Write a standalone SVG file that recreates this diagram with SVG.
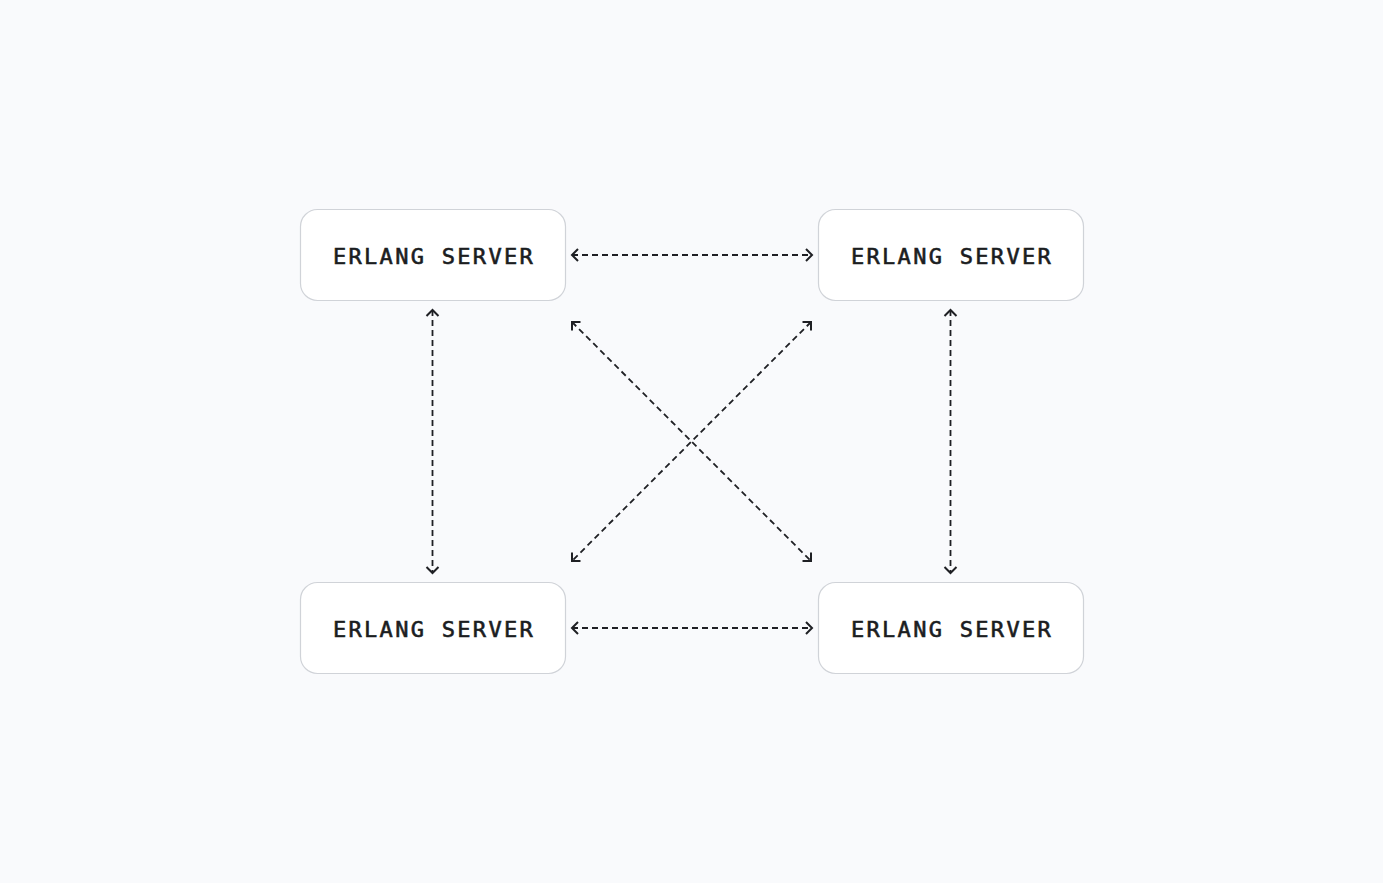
<svg xmlns="http://www.w3.org/2000/svg" width="1383" height="883" viewBox="0 0 1383 883">
<style>
.box{fill:#ffffff;stroke:#d0d3d8;stroke-width:1.2}
.lbl{font-family:"DejaVu Sans Mono","Liberation Mono",monospace;font-size:22px;font-weight:normal;letter-spacing:2.3px;fill:#1b1d21;stroke:#1b1d21;stroke-width:0.6;text-anchor:middle}
.conn{fill:none;stroke:#1f2024;stroke-width:1.8;stroke-dasharray:6 4}
.head{fill:none;stroke:#1f2024;stroke-width:2;stroke-dasharray:none}
</style>
<defs>
<marker id="ah" markerUnits="userSpaceOnUse" viewBox="-9 -9 12 18" refX="0" refY="0" markerWidth="12" markerHeight="18" orient="auto-start-reverse" overflow="visible">
<path class="head" d="M-6,-6 L0,0 L-6,6"/>
</marker>
</defs>
<rect width="1383" height="883" fill="#f9fafc"/>
<g id="connectors">
<line class="conn" x1="572" y1="255" x2="812" y2="255" marker-start="url(#ah)" marker-end="url(#ah)"/>
<line class="conn" x1="572" y1="628" x2="812" y2="628" marker-start="url(#ah)" marker-end="url(#ah)"/>
<line class="conn" x1="432.5" y1="310" x2="432.5" y2="573" marker-start="url(#ah)" marker-end="url(#ah)"/>
<line class="conn" x1="950.5" y1="310" x2="950.5" y2="573" marker-start="url(#ah)" marker-end="url(#ah)"/>
<line class="conn" x1="572" y1="322" x2="811" y2="561" marker-start="url(#ah)" marker-end="url(#ah)"/>
<line class="conn" x1="811" y1="322" x2="572" y2="561" marker-start="url(#ah)" marker-end="url(#ah)"/>
</g>
<g id="node-tl">
<rect class="box" x="300.5" y="209.5" width="265" height="91" rx="17"/>
<text class="lbl" x="434" y="264">ERLANG SERVER</text>
</g>
<g id="node-tr">
<rect class="box" x="818.5" y="209.5" width="265" height="91" rx="17"/>
<text class="lbl" x="952" y="264">ERLANG SERVER</text>
</g>
<g id="node-bl">
<rect class="box" x="300.5" y="582.5" width="265" height="91" rx="17"/>
<text class="lbl" x="434" y="637">ERLANG SERVER</text>
</g>
<g id="node-br">
<rect class="box" x="818.5" y="582.5" width="265" height="91" rx="17"/>
<text class="lbl" x="952" y="637">ERLANG SERVER</text>
</g>
</svg>
